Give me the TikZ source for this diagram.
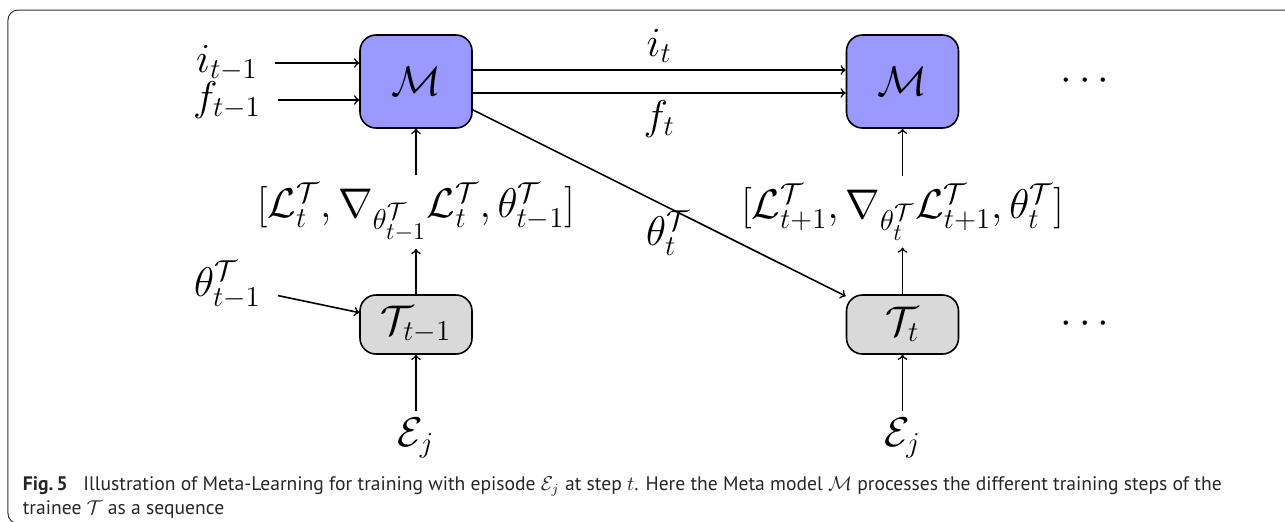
\documentclass[tikz,border=0pt]{standalone}
\usepackage{amsmath}
\usepackage{amsfonts}
\usepackage{fontspec}
\setsansfont{PT Sans}
\usepackage{tikz}
\usetikzlibrary{positioning}

\begin{document}
\begin{tikzpicture}[->, auto, x=1pt, y=1pt, node distance=243.25pt, line width=0.8pt, font=\huge,
  meta node/.style={rectangle, draw, rounded corners=8pt, fill=blue!40, minimum width=56pt, minimum height=46.5pt},
  trainee node/.style={rectangle, draw, rounded corners=8pt, fill=gray!30, minimum width=56pt, minimum height=29.5pt},
  caption text/.style={anchor=base west, inner sep=0pt, text=black!85, font=\sffamily\fontsize{9.8}{12}\selectfont}]
        \useasboundingbox (-208,40.75) rectangle (434.5,-219.75);
        \clip (-208,40.75) rectangle (434.5,-219.75);
        \draw[-, line width=0.5pt, black!80, rounded corners=5pt] (-204,35.75) rectangle (445,-221);

        \node[meta node] (M1) at (0,0) {$\mathcal{M}$};
        \node[meta node] (M2) [right of=M1] {$\mathcal{M}$};
        \node[trainee node] (T1) [node distance=121.5pt, below of=M1] {$\mathcal{T}_{t-1}$};
        \node[trainee node] (T2) [right of=T1] {$\mathcal{T}_t$};
        \node (L1) at (0,-65.25) {$[\mathcal{L}^{\mathcal{T}}_t, \nabla_{\theta^{\mathcal{T}}_{t-1}}\mathcal{L}^{\mathcal{T}}_t, \theta^{\mathcal{T}}_{t-1}]$};
        \node (L2) [right of=L1] {$[\mathcal{L}^{\mathcal{T}}_{t+1}, \nabla_{\theta^{\mathcal{T}}_{t}}\mathcal{L}^{\mathcal{T}}_{t+1}, \theta^{\mathcal{T}}_{t}]$};
        \node (E1) at (0,-178.5) {$\mathcal{E}_j$};
        \node (E2) [right of=E1] {$\mathcal{E}_j$};
        \node (i0) at (-94.5,9.25) {$i_{t-1}$};
        \node (f0) at (-94.5,-9.25) {$f_{t-1}$};
        \node (th0) at (-94.25,-101.75) {$\theta^{\mathcal{T}}_{t-1}$};
        \node (dots1) [node distance=93pt, right of=M2] {$\cdots$};
        \node (dots2) [node distance=93pt, right of=T2] {$\cdots$};

        \path
        (i0) edge[shorten <=5pt] (i0 -| M1.west)
        (f0) edge[shorten <=5pt] (f0 -| M1.west)
        ([yshift=5.75pt]M1.east) edge node {$i_t$} ([yshift=5.75pt]M2.west)
        ([yshift=-5.75pt]M1.east) edge node[swap] {$f_t$} ([yshift=-5.75pt]M2.west)
        (M1) edge node[below, xshift=4.5pt] {$\theta^{\mathcal{T}}_t$} (T2)
        (th0) edge[shorten <=5pt] (T1)
        (T1) edge (L1)
        (L1) edge (M1)
        (T2) edge (L2)
        (L2) edge (M2)
        (E1) edge (T1)
        (E2) edge (T2);

        \node[caption text] (cap1) at (-197,-204.25) {\textbf{Fig.\,5}\hspace{0.8em}Illustration of Meta-Learning for training with episode $\mathcal{E}_j$ at step $t$. Here the Meta model $\mathcal{M}$ processes the different training steps of the};
        \node[caption text] (cap2) at (-197,-216.25) {trainee $\mathcal{T}$ as a sequence};
    \end{tikzpicture}
\end{document}
